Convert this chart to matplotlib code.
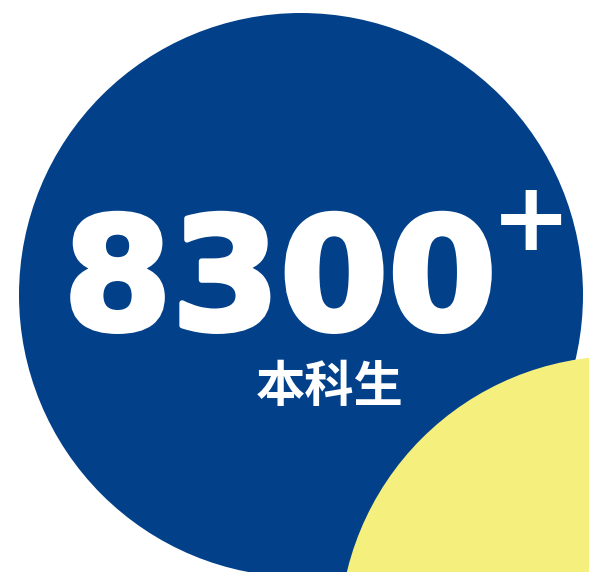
import matplotlib.pyplot as plt
from matplotlib.patches import Circle
import matplotlib.patheffects as pe

# figure content
number_text = "8300"
suffix_text = "+"
label_text = "本科生"

blue = "#02418a"
yellow = "#f5ef7e"

fig = plt.figure(figsize=(5.89, 5.72), dpi=100)
ax = fig.add_axes([0, 0, 1, 1])
ax.set_xlim(0, 589)
ax.set_ylim(572, 0)
ax.set_aspect("equal")
ax.axis("off")

ax.add_patch(Circle((301, 295), 282, color=blue, lw=0))
ax.add_patch(Circle((621, 638), 282, color=yellow, lw=0))

ax.text(280, 329, number_text, ha="center", va="baseline", color="white",
        fontsize=112, fontweight="bold", family="DejaVu Sans",
        path_effects=[pe.withStroke(linewidth=4, foreground="white")])
ax.text(531, 250, suffix_text, ha="center", va="baseline", color="white",
        fontsize=69, fontweight="bold", family="DejaVu Sans")
ax.text(330, 402, label_text, ha="center", va="baseline", color="white",
        fontsize=35.5, fontweight="bold", family=["Noto Sans CJK SC", "DejaVu Sans"])

fig.savefig("out.png", dpi=100)
